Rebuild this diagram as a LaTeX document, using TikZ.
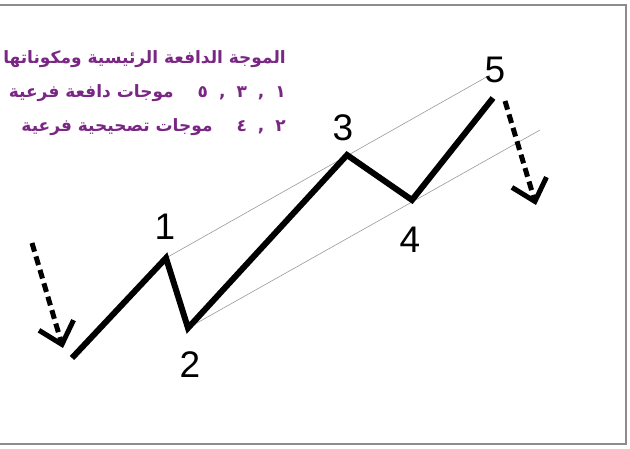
\documentclass[tikz,border=0pt]{standalone}
\usepackage{fontspec}
\setmainfont{Liberation Sans}
\newfontfamily\arabicfont[Script=Arabic]{DejaVu Sans}
\TeXXeTstate=1
\usepackage{tikz}
\usetikzlibrary{arrows.meta}

\definecolor{wavetext}{RGB}{122,38,132}
\definecolor{framegray}{RGB}{140,140,140}

\tikzset{
  wave/.style={line width=6pt, line join=miter},
  channel/.style={line width=0.6pt, gray!80},
  trendarrow/.style={line width=5pt, dash pattern=on 9pt off 5pt,
    -{Straight Barb[length=20pt,width=36pt]}},
  wavenum/.style={font=\fontsize{37}{37}\selectfont, inner sep=0pt},
}
\newcommand{\numgap}{\hspace{11pt}}

\begin{document}
\begin{tikzpicture}[x=1pt,y=-1pt]
        \useasboundingbox (0,0) rectangle (630,448);
        % Frame
        \draw[framegray, line width=1.8pt] (0,5) -- (626,5) -- (626,444) -- (0,444);

        % Wave points
        \coordinate (p0) at (72,358);
        \coordinate (p1) at (166,258);
        \coordinate (p2) at (188,328);
        \coordinate (p3) at (347,155);
        \coordinate (p4) at (412,200);
        \coordinate (p5) at (493,98);
        \coordinate (upperend) at (490,75);
        \coordinate (lowerend) at (540,130);

        % Channel lines
        \draw[channel] (p1) -- (upperend);
        \draw[channel] (p2) -- (lowerend);

        % Impulse wave
        \draw[wave] (p0) -- (p1) -- (p2) -- (p3) -- (p4) -- (p5);

        % Wave numbers
        \node[wavenum] (n1) at (165,227) {1};
        \node[wavenum] (n2) at (190,365) {2};
        \node[wavenum] (n3) at (343,128) {3};
        \node[wavenum] (n4) at (410,240) {4};
        \node[wavenum] (n5) at (495,70) {5};

        % Trend arrows
        \coordinate (inbeg) at (32,243);
        \coordinate (inend) at (63,348);
        \coordinate (outbeg) at (505,101);
        \coordinate (outend) at (536,205);
        \draw[trendarrow] (inbeg) -- (inend);
        \draw[trendarrow] (outbeg) -- (outend);

        % Legend
        \node[text=wavetext, font=\arabicfont\bfseries\fontsize{17}{34}\selectfont, align=right, anchor=north east, inner sep=0pt] (legend) at (286,50)
          {\beginR الموجة الدافعة الرئيسية ومكوناتها\endR\\
           \beginR ١\numgap,\numgap٣\numgap,\numgap٥\hspace{24pt}موجات دافعة فرعية\endR\\
           \beginR ٢\numgap,\numgap٤\hspace{24pt}موجات تصحيحية فرعية\endR};
\end{tikzpicture}
\end{document}
